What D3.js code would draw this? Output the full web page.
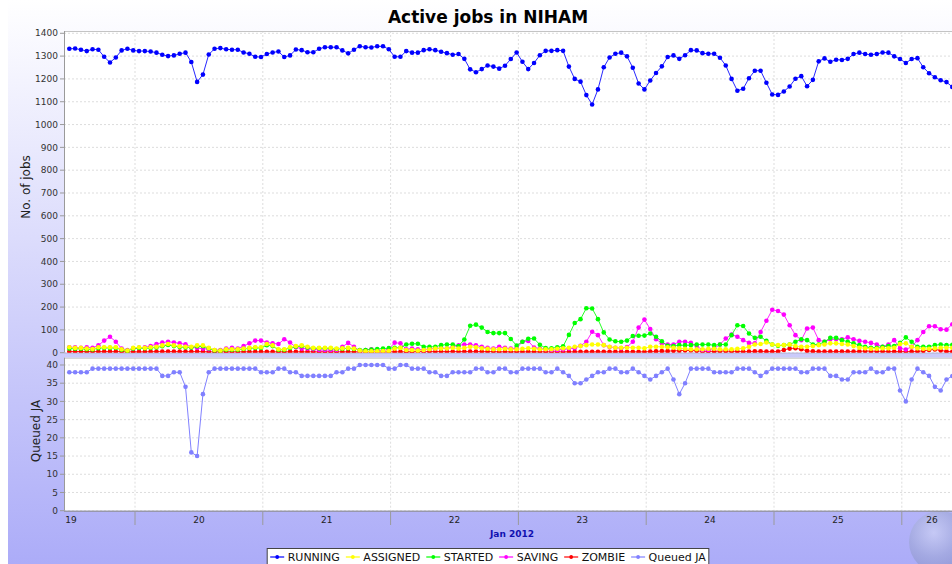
<!DOCTYPE html>
<html><head><meta charset="utf-8">
<script src="https://cdn.jsdelivr.net/npm/d3@7"></script>
<style>html,body{margin:0;padding:0;background:#fff;}svg{display:block;font-family:"DejaVu Sans",sans-serif;}</style>
</head><body>
<script>
const seriesNames = ["RUNNING","ASSIGNED","STARTED","SAVING","ZOMBIE","Queued JA"];
const seriesColors = ["#0000ff","#ffff00","#00ff00","#ff00ff","#ff0000","#8080ff"];
const dayTicks = ["19","20","21","22","23","24","25","26"];
const yTicksJobs = [0,100,200,300,400,500,600,700,800,900,1000,1100,1200,1300,1400];
const yTicksQueued = [0,5,10,15,20,25,30,35,40];

const running = [1332,1333,1328,1322,1330,1328,1297,1272,1294,1325,1332,1325,1322,1322,1320,1315,1306,1300,1303,1310,
1315,1274,1187,1219,1307,1332,1335,1330,1328,1328,1316,1310,1297,1296,1309,1316,1320,1296,1303,1329,
1326,1317,1317,1332,1339,1339,1339,1325,1312,1328,1343,1339,1338,1343,1343,1330,1297,1297,1322,1315,
1315,1326,1330,1326,1319,1313,1306,1309,1288,1242,1229,1243,1259,1254,1245,1258,1287,1316,1275,1243,
1270,1304,1323,1323,1326,1323,1254,1200,1188,1129,1088,1154,1251,1294,1310,1315,1299,1249,1180,1154,
1193,1226,1255,1296,1303,1288,1304,1326,1325,1313,1310,1310,1293,1259,1200,1148,1157,1203,1236,1236,
1183,1132,1130,1145,1167,1201,1212,1168,1196,1277,1290,1275,1284,1283,1288,1309,1315,1309,1306,1309,
1316,1315,1299,1287,1270,1287,1291,1251,1225,1207,1194,1186,1165];
const assigned = [24,21,21,18,16,24,24,24,24,15,9,21,24,21,24,26,32,38,32,28,
26,26,32,32,21,12,9,15,15,15,18,21,24,24,38,32,15,15,24,29,
32,26,21,21,21,21,18,19,21,18,9,6,6,6,7,7,18,21,12,12,
9,12,15,18,18,18,21,18,21,26,24,19,17,15,15,17,15,15,17,19,
17,15,15,15,17,19,22,26,29,33,36,36,33,26,22,22,22,22,22,19,
26,26,26,24,22,19,17,15,15,15,17,17,15,15,15,17,19,26,36,38,
45,36,33,33,36,29,26,26,29,33,36,41,41,38,36,29,22,19,17,17,
19,19,22,38,41,26,19,17,17,19,22,22,22];
const started = [18,17,17,15,14,20,21,21,21,13,8,18,21,19,21,23,28,34,29,25,
23,23,28,28,19,10,8,13,13,13,16,19,21,21,33,29,13,13,21,26,
29,23,19,19,19,19,16,17,19,16,12,12,14,16,18,20,22,22,36,39,
39,26,26,26,33,36,36,29,58,118,123,110,91,86,86,86,60,31,48,61,
62,35,20,19,24,28,78,130,147,195,194,147,89,58,50,48,53,73,74,75,
84,70,50,30,29,33,33,33,36,36,36,33,36,36,77,120,117,84,65,70,
52,36,30,33,36,48,59,55,36,36,48,65,65,55,48,41,33,26,22,22,
26,29,29,43,67,48,26,26,26,33,36,33,35];
const saving = [24,24,21,24,21,32,53,70,48,18,12,18,21,24,29,38,44,48,45,41,
37,24,21,18,15,12,12,18,21,18,29,41,53,53,45,41,38,59,45,24,
18,18,15,12,12,12,12,26,43,26,9,12,15,9,9,15,44,41,15,18,
15,12,18,18,21,18,26,32,36,36,32,26,21,18,26,21,18,20,48,51,
23,18,15,12,12,14,18,20,30,48,92,77,33,25,22,20,25,48,110,145,
104,59,41,36,36,48,48,43,29,12,12,19,36,62,80,70,55,43,41,91,
140,188,183,167,120,77,55,106,110,55,48,59,59,59,67,59,52,48,43,36,
26,36,55,19,14,26,55,91,116,116,103,101,125];
const zombie = [5,5,5,5,5,5,5,5,5,5,4,4,4,4,5,5,5,5,5,5,
5,5,5,5,4,4,4,4,4,4,4,4,4,4,4,4,4,4,4,4,
4,4,4,4,4,4,4,4,4,4,4,4,4,4,4,4,4,4,4,4,
5,5,5,5,5,5,5,5,5,5,5,5,5,5,4,4,4,4,4,4,
4,4,4,4,4,4,4,4,4,4,4,4,4,4,4,4,4,4,4,4,
5,6,7,7,8,9,10,10,8,6,6,6,7,7,6,6,5,5,6,6,
5,5,5,12,18,20,15,8,6,5,5,5,5,5,5,5,6,7,7,6,
6,5,5,5,5,5,6,8,12,14,10,6,5];
const queuedJA = [38,38,38,38,39,39,39,39,39,39,39,39,39,39,39,39,37,37,38,38,
34,16,15,32,38,39,39,39,39,39,39,39,39,38,38,38,39,39,38,38,
37,37,37,37,37,37,38,38,39,39,40,40,40,40,40,39,39,40,40,39,
39,39,38,38,37,37,38,38,38,38,39,39,38,38,39,39,38,38,39,39,
39,39,38,38,39,38,37,35,35,36,37,38,38,39,39,38,38,39,38,37,
36,37,38,39,36,32,35,39,39,39,39,38,38,38,38,39,39,39,38,37,
38,39,39,39,39,39,38,38,39,39,39,37,37,36,36,38,38,38,39,38,
38,39,39,33,30,36,39,38,37,34,33,36,37];

const W = 952, H = 564;
const svg = d3.select("body").append("svg").attr("width", W).attr("height", H);
const defs = svg.append("defs");
const bg = defs.append("linearGradient").attr("id","bg").attr("x1",0).attr("y1",0).attr("x2",0).attr("y2",1);
bg.append("stop").attr("offset","0%").attr("stop-color","#ffffff");
bg.append("stop").attr("offset","100%").attr("stop-color","#acacf8");
svg.append("rect").attr("x",0).attr("y",0).attr("width",W).attr("height",H).attr("fill","#fff");
svg.append("rect").attr("x",8).attr("y",0).attr("width",W-8).attr("height",H).attr("fill","url(#bg)");

// globe decoration
const gl = defs.append("radialGradient").attr("id","globe").attr("cx","40%").attr("cy","35%").attr("r","65%");
gl.append("stop").attr("offset","0%").attr("stop-color","#dfe6f2");
gl.append("stop").attr("offset","60%").attr("stop-color","#98a4c8");
gl.append("stop").attr("offset","100%").attr("stop-color","#7a86b4");
svg.append("circle").attr("cx",940).attr("cy",542).attr("r",31).attr("fill","url(#globe)").attr("opacity",0.45);

// title
svg.append("text").attr("x",488).attr("y",23).attr("text-anchor","middle")
  .attr("font-size",17).attr("font-weight","bold").attr("fill","#000").text("Active jobs in NIHAM");

const left = 64, right = 960;
const top1 = 31, bot1 = 352.7, top2 = 357.7, bot2 = 510.7;
const x = d3.scaleTime().domain([new Date(2012,0,20), new Date(2012,0,27)]).range([135, 135 + 7*127.8]);
const t0 = new Date(2012,0,19,11,40);
const stepMs = 24*60*60*1000/22;
const times = running.map((d,i) => new Date(+t0 + i*stepMs));
const yJobs = d3.scaleLinear().domain([0,1410]).range([bot1, top1]);
const yQ = d3.scaleLinear().domain([0,42]).range([bot2, top2]);

defs.append("clipPath").attr("id","c1").append("rect").attr("x",left).attr("y",top1-4).attr("width",right-left).attr("height",bot1-top1+4);
defs.append("clipPath").attr("id","c2").append("rect").attr("x",left).attr("y",top2).attr("width",right-left).attr("height",bot2-top2);

const dayBounds = d3.range(20,27).map(d => new Date(2012,0,d));

function plotArea(yS, top, bot, ticks) {
  svg.append("rect").attr("x",left).attr("y",top).attr("width",right-left).attr("height",bot-top).attr("fill","#fff");
  const g = svg.append("g");
  g.selectAll(".hg").data(ticks).join("line")
    .attr("x1",left).attr("x2",right).attr("y1",d=>yS(d)).attr("y2",d=>yS(d))
    .attr("stroke","#d4d4d4").attr("stroke-width",0.8).attr("stroke-dasharray","2,2");
  g.selectAll(".vg").data(dayBounds).join("line")
    .attr("x1",d=>x(d)).attr("x2",d=>x(d)).attr("y1",top).attr("y2",bot)
    .attr("stroke","#d4d4d4").attr("stroke-width",0.8).attr("stroke-dasharray","2,2");
  svg.append("line").attr("x1",left).attr("x2",right).attr("y1",top+0.5).attr("y2",top+0.5).attr("stroke","#c4c4c4");
  svg.append("line").attr("x1",left+0.5).attr("x2",left+0.5).attr("y1",top).attr("y2",bot).attr("stroke","#9a9a9a");
  const ax = svg.append("g");
  ax.selectAll("line").data(ticks).join("line")
    .attr("x1",left-4).attr("x2",left).attr("y1",d=>yS(d)).attr("y2",d=>yS(d)).attr("stroke","#9a9a9a");
  ax.selectAll("text").data(ticks).join("text")
    .attr("x",left-6).attr("y",d=>yS(d)+3.2).attr("text-anchor","end")
    .attr("font-size",9).attr("fill","#333").text(d=>d);
}
plotArea(yJobs, top1, bot1, yTicksJobs);
plotArea(yQ, top2, bot2, yTicksQueued);

// bottom axis
svg.append("line").attr("x1",left).attr("x2",right).attr("y1",bot2+0.5).attr("y2",bot2+0.5).attr("stroke","#8a8a8a");
svg.append("line").attr("x1",left).attr("x2",right).attr("y1",bot1+0.5).attr("y2",bot1+0.5).attr("stroke","#b8b8d8");
svg.selectAll(".xt").data(dayBounds).join("line")
  .attr("x1",d=>x(d)).attr("x2",d=>x(d)).attr("y1",bot2+1).attr("y2",525).attr("stroke","#9a9a9a");
svg.selectAll(".xl").data(dayTicks).join("text")
  .attr("x",d => Math.min(x(new Date(2012,0,+d,12)), 932)).attr("y",523).attr("text-anchor","middle")
  .attr("font-size",9).attr("fill","#222").text(d=>d);
svg.append("text").attr("x",(left+right)/2).attr("y",537).attr("text-anchor","middle")
  .attr("font-size",9).attr("font-weight","bold").attr("fill","#1010b0").text("Jan 2012");

// axis titles
svg.append("text").attr("transform","translate(30,187) rotate(-90)").attr("text-anchor","middle")
  .attr("font-size",12).attr("fill","#222").text("No. of jobs");
svg.append("text").attr("transform","translate(40,431) rotate(-90)").attr("text-anchor","middle")
  .attr("font-size",12).attr("fill","#222").text("Queued JA");

// series
const topSeries = [running, assigned, started, saving, zombie];
const g1 = svg.append("g").attr("clip-path","url(#c1)");
for (let s = topSeries.length-1; s >= 0; s--) {
  const data = topSeries[s];
  const line = d3.line().x((d,i)=>x(times[i])).y(d=>yJobs(d));
  g1.append("path").datum(data).attr("d",line).attr("fill","none")
    .attr("stroke",seriesColors[s]).attr("stroke-width",1).attr("stroke-opacity",0.85);
  g1.append("g").selectAll("circle").data(data).join("circle")
    .attr("cx",(d,i)=>x(times[i])).attr("cy",d=>yJobs(d)).attr("r",2.3).attr("fill",seriesColors[s]);
}
const g2 = svg.append("g").attr("clip-path","url(#c2)");
const lineQ = d3.line().x((d,i)=>x(times[i])).y(d=>yQ(d));
g2.append("path").datum(queuedJA).attr("d",lineQ).attr("fill","none").attr("stroke",seriesColors[5]).attr("stroke-width",1);
g2.append("g").selectAll("circle").data(queuedJA).join("circle")
  .attr("cx",(d,i)=>x(times[i])).attr("cy",d=>yQ(d)).attr("r",2.3).attr("fill",seriesColors[5]);

// legend
const lg = svg.append("g");
const lbox = lg.append("rect").attr("y",548.5).attr("height",30).attr("fill","#fff").attr("stroke","#444").attr("stroke-width",1);
const li = lg.append("g");
let cx = 0;
seriesNames.forEach((n,i) => {
  li.append("line").attr("x1",cx).attr("x2",cx+14).attr("y1",557).attr("y2",557).attr("stroke",seriesColors[i]).attr("stroke-width",1.2);
  li.append("circle").attr("cx",cx+7).attr("cy",557).attr("r",1.9).attr("fill",seriesColors[i]);
  const t = li.append("text").attr("x",cx+17.5).attr("y",561).attr("font-size",11).attr("fill","#111").text(n);
  cx += 17.5 + t.node().getComputedTextLength() + 6;
});
const lw = cx - 6;
const lx = 488 - (lw + 6)/2;
li.attr("transform",`translate(${lx+3},0)`);
lbox.attr("x",lx).attr("width",lw+6);
</script>
</body></html>
